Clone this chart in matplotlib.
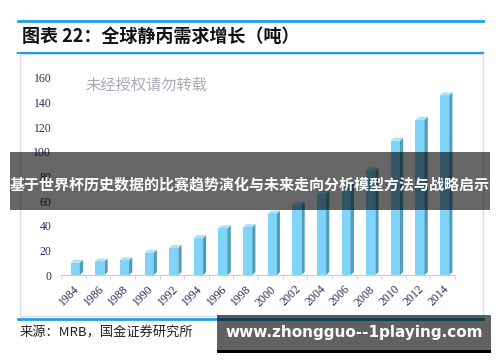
import numpy as np
import matplotlib.pyplot as plt
from matplotlib.patches import Polygon, Rectangle
from matplotlib.lines import Line2D

plt.rcParams['font.family'] = ['Noto Sans CJK SC', 'DejaVu Sans']

years = ['1984', '1986', '1988', '1990', '1992', '1994', '1996', '1998',
         '2000', '2002', '2004', '2006', '2008', '2010', '2012', '2014']
demand = [10, 11, 12, 18, 22, 30, 38, 39, 50, 57, 66, 73, 85, 109, 126, 146]
yticks = [0, 20, 40, 60, 80, 100, 120, 140, 160]

title = '图表 22：全球静丙需求增长（吨）'
source = '来源：MRB，国金证券研究所'
mark = '未经授权请勿转载'
banner = '基于世界杯历史数据的比赛趋势演化与未来走向分析模型方法与战略启示'
site = 'www.zhongguo--1playing.com'

W, H = 500, 362
fig = plt.figure(figsize=(W / 100, H / 100), dpi=100)


def fx(x):
    return x / W


def fy(y):
    return 1 - y / H


blue = '#1e9fe3'
tf = fig.transFigure

# frame lines and box
fig.add_artist(Line2D([fx(18), fx(483)], [fy(21), fy(21)], color=blue, lw=2, transform=tf))
fig.add_artist(Line2D([fx(18), fx(483)], [fy(53), fy(53)], color=blue, lw=1.5, transform=tf))
fig.add_artist(Rectangle((fx(20), fy(316)), fx(463), (316 - 54) / H, fill=False,
                         ec='#d9dcf2', lw=1, transform=tf))
fig.add_artist(Line2D([fx(18), fx(483)], [fy(319), fy(319)], color=blue, lw=2, transform=tf))

fig.text(fx(22), fy(36), title, fontsize=13, fontweight='bold', color='#111111',
         va='center', ha='left')
fig.text(fx(20), fy(333), source, fontsize=9.5, color='#222222', va='center', ha='left')

ax = fig.add_axes([fx(61), fy(275), fx(455 - 61), (275 - 78) / H])
n = len(years)
x = np.arange(n)
w, off, dx, dy = 0.37, 0.08, 0.13, 2.4
front = '#80d4fa'
side = '#4f9dbb'
top = '#a8e4fc'
ax.bar(x + off, demand, width=w, color=front, zorder=3)
for i, v in enumerate(demand):
    x1 = i + off + w / 2
    x0 = i + off - w / 2
    ax.add_patch(Polygon([(x1, 0), (x1 + dx, dy), (x1 + dx, v + dy), (x1, v)],
                         closed=True, fc=side, ec='none', zorder=3, clip_on=False))
    ax.add_patch(Polygon([(x0, v), (x1, v), (x1 + dx, v + dy), (x0 + dx, v + dy)],
                         closed=True, fc=top, ec='none', zorder=3, clip_on=False))

ax.set_xlim(-0.5, n - 0.5)
ax.set_ylim(0, 160)
ax.set_yticks(yticks)
ax.set_yticklabels([str(t) for t in yticks], family='Liberation Serif', fontsize=8.5,
                   color='#2b2b5e')
ax.tick_params(axis='y', length=0, pad=7)
ax.set_xticks(x)
ax.set_xticklabels(years, rotation=45, ha='right', va='top', rotation_mode='anchor',
                   family='Liberation Serif', fontsize=8.5, color='#2b2b5e')
ax.set_xticks(np.arange(n + 1) - 0.5, minor=True)
ax.tick_params(axis='x', which='major', length=0, pad=6)
ax.tick_params(axis='x', which='minor', length=3, color='#c8cce8')
for s in ['left', 'top', 'right']:
    ax.spines[s].set_visible(False)
ax.spines['bottom'].set_color('#c8cce8')
ax.patch.set_alpha(0)

fig.text(fx(85), fy(85), mark, fontsize=11, color='#a9a9b8', va='center', ha='left')

# overlays
fig.add_artist(Rectangle((fx(10), fy(210)), fx(480), 58 / H, fc='black', alpha=0.6,
                         ec='none', transform=tf, zorder=10))
fig.text(fx(250), fy(185), banner, fontsize=10.8, fontweight='bold', color='white',
         ha='center', va='center', zorder=11)
fig.add_artist(Rectangle((fx(217), fy(350)), fx(274), 35 / H, fc='black', alpha=0.62,
                         ec='none', transform=tf, zorder=10))
fig.add_artist(Rectangle((fx(217), fy(353)), fx(274), 3 / H, fc='black',
                         ec='none', transform=tf, zorder=10))
fig.text(fx(354), fy(333), site, fontsize=11, fontweight='bold', color='white',
         family='DejaVu Sans', ha='center', va='center', zorder=11)

fig.savefig('out.png', dpi=100)
